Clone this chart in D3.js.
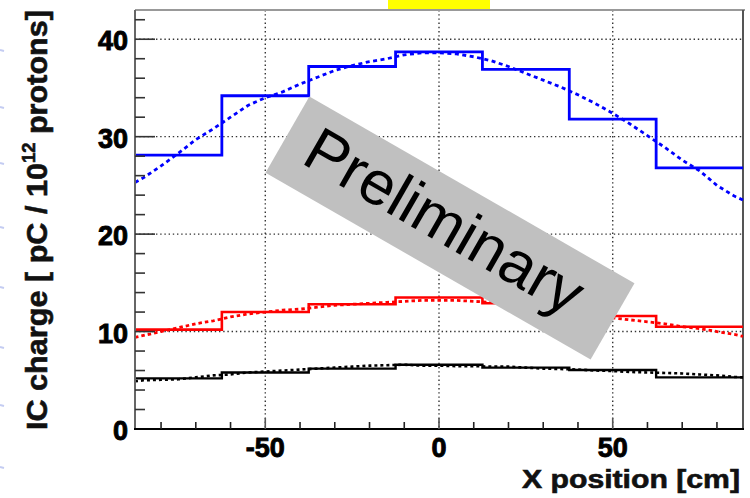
<!DOCTYPE html>
<html>
<head>
<meta charset="utf-8">
<script src="https://cdn.jsdelivr.net/npm/d3@7"></script>
<style>
  html, body { margin: 0; padding: 0; background: #ffffff; }
  svg { display: block; }
  text { font-family: "Liberation Sans", Arial, Helvetica, sans-serif; }
</style>
</head>
<body>
<svg id="chart" width="750" height="498"></svg>
<script>
// Histogram bin edges along the beam profile [cm]
const binEdges = [-87.5, -62.5, -37.5, -12.5, 12.5, 37.5, 62.5, 87.5];

// Measured IC charge per bin [pC / 1e12 protons]
const blueMeasured  = [28.1, 34.2, 37.2, 38.7, 36.9, 31.8, 26.8];
const redMeasured   = [10.2, 12.0, 12.8, 13.5, 12.9, 11.6, 10.5];
const blackMeasured = [5.2, 5.8, 6.2, 6.6, 6.3, 6.05, 5.3];

// Simulated profiles, sampled along X [cm]
const simX = [-87.5, -85, -80, -75, -70, -65, -60, -55, -50, -45, -40, -35, -30, -25, -20, -15, -10, -5, 0,
              5, 10, 15, 20, 25, 30, 35, 40, 45, 50, 55, 60, 65, 70, 75, 80, 85, 87.5];
const blueSim  = [25.3, 25.8, 27.0, 28.3, 29.7, 30.8, 32.0, 33.2, 34.0, 34.6, 35.4, 36.1, 36.8, 37.3, 37.7, 38.0, 38.4, 38.6, 38.6,
                  38.5, 38.2, 37.8, 37.2, 36.5, 35.8, 35.1, 34.3, 33.4, 32.4, 31.3, 30.1, 28.9, 27.6, 26.5, 25.0, 23.9, 23.5];
const redSim   = [9.4, 9.6, 10.0, 10.4, 10.8, 11.1, 11.5, 11.8, 12.0, 12.2, 12.3, 12.5, 12.7, 12.8, 12.9, 13.0, 13.1, 13.2, 13.2,
                  13.2, 13.1, 13.0, 12.8, 12.6, 12.4, 12.2, 12.0, 11.7, 11.4, 11.2, 11.0, 10.8, 10.5, 10.3, 10.0, 9.7, 9.5];
const blackSim = [4.9, 5.0, 5.05, 5.1, 5.3, 5.5, 5.6, 5.8, 5.9, 6.0, 6.1, 6.2, 6.3, 6.4, 6.5, 6.55, 6.6, 6.5, 6.5,
                  6.45, 6.45, 6.4, 6.4, 6.3, 6.2, 6.15, 6.1, 6.0, 5.95, 5.85, 5.8, 5.75, 5.7, 5.6, 5.5, 5.35, 5.3];

// Axis ticks
const xMajorTicks = [-50, 0, 50];
const xTickLabels = ["-50", "0", "50"];
const xMinorTicks = [-80, -70, -60, -40, -30, -20, -10, 10, 20, 30, 40, 60, 70, 80];
const yMajorTicks = [0, 10, 20, 30, 40];
const yTickLabels = ["0", "10", "20", "30", "40"];
const yMinorTicks = [2, 4, 6, 8, 12, 14, 16, 18, 22, 24, 26, 28, 32, 34, 36, 38, 42];

const svg = d3.select("#chart");

const plot = { left: 135, right: 743, top: 10, bottom: 429 };
const x = d3.scaleLinear().domain([-87.5, 87.5]).range([plot.left, plot.right]);
const y = d3.scaleLinear().domain([0, 43]).range([plot.bottom, plot.top]);

// Faint slide bullets along the left margin
const bulletY = [50, 107, 163, 227, 287, 347, 405, 467];
svg.append("g").selectAll("line").data(bulletY).join("line")
  .attr("x1", 0).attr("x2", 4).attr("y1", d => d).attr("y2", d => d + 1)
  .attr("stroke", "#c4ccf2").attr("stroke-width", 2);

// Yellow tab above the frame
svg.append("rect").attr("x", 388).attr("y", 0).attr("width", 102).attr("height", 9).attr("fill", "#ffff00");

// Dotted grid
const grid = svg.append("g").attr("stroke", "#333").attr("stroke-width", 1.4).attr("stroke-dasharray", "1.4,2.8");
grid.selectAll(".gy").data(yMajorTicks.filter(d => d > 0)).join("line")
  .attr("x1", plot.left).attr("x2", plot.right).attr("y1", d => y(d)).attr("y2", d => y(d));
grid.selectAll(".gx").data(xMajorTicks).join("line")
  .attr("y1", plot.top).attr("y2", plot.bottom).attr("x1", d => x(d)).attr("x2", d => x(d));

// Frame
svg.append("line").attr("x1", plot.left).attr("x2", plot.right + 2).attr("y1", plot.top).attr("y2", plot.top)
  .attr("stroke", "#999").attr("stroke-width", 2);
svg.append("line").attr("x1", plot.right).attr("x2", plot.right).attr("y1", plot.top).attr("y2", plot.bottom)
  .attr("stroke", "#555").attr("stroke-width", 2);

// Step histograms and simulated curves
const stepLine = d3.line().x(d => x(d[0])).y(d => y(d[1])).curve(d3.curveStepAfter);
const simLine = d3.line().x((d, i) => x(simX[i])).y(d => y(d));

function histPoints(vals) {
  const pts = vals.map((v, i) => [binEdges[i], v]);
  pts.push([binEdges[binEdges.length - 1], vals[vals.length - 1]]);
  return pts;
}

const series = [
  { meas: blackMeasured, sim: blackSim, color: "#000000", w: 2.4, sw: 2.6, dash: "3,3" },
  { meas: redMeasured,   sim: redSim,   color: "#ff0000", w: 2.6, sw: 2.8, dash: "3.5,3" },
  { meas: blueMeasured,  sim: blueSim,  color: "#0000ff", w: 2.8, sw: 2.8, dash: "4,3.5" }
];

series.forEach(s => {
  svg.append("path").attr("d", simLine(s.sim)).attr("fill", "none")
    .attr("stroke", s.color).attr("stroke-width", s.sw).attr("stroke-dasharray", s.dash);
  svg.append("path").attr("d", stepLine(histPoints(s.meas))).attr("fill", "none")
    .attr("stroke", s.color).attr("stroke-width", s.w);
});

// Y axis
const yAxis = svg.append("g");
yAxis.append("line").attr("x1", plot.left).attr("x2", plot.left).attr("y1", plot.top).attr("y2", plot.bottom)
  .attr("stroke", "#666").attr("stroke-width", 2);
yAxis.selectAll(".ymaj").data(yMajorTicks).join("line")
  .attr("x1", plot.left).attr("x2", plot.left + 20).attr("y1", d => y(d)).attr("y2", d => y(d))
  .attr("stroke", "#333").attr("stroke-width", 1.6);
yAxis.selectAll(".ymin").data(yMinorTicks).join("line")
  .attr("x1", plot.left).attr("x2", plot.left + 10).attr("y1", d => y(d)).attr("y2", d => y(d))
  .attr("stroke", "#333").attr("stroke-width", 1.6);
yAxis.selectAll("text").data(yMajorTicks).join("text")
  .attr("x", 128).attr("y", d => y(d) + 2).attr("text-anchor", "end").attr("dominant-baseline", "central")
  .attr("font-size", 27).attr("font-weight", "bold").attr("fill", "#000")
  .attr("stroke", "#000").attr("stroke-width", 0.9)
  .text((d, i) => yTickLabels[i]);

// X axis
const xAxis = svg.append("g");
xAxis.append("line").attr("x1", plot.left - 1).attr("x2", plot.right + 1).attr("y1", plot.bottom).attr("y2", plot.bottom)
  .attr("stroke", "#000").attr("stroke-width", 2);
xAxis.selectAll(".xmaj").data(xMajorTicks).join("line")
  .attr("x1", d => x(d)).attr("x2", d => x(d)).attr("y1", plot.bottom).attr("y2", plot.bottom - 11)
  .attr("stroke", "#555").attr("stroke-width", 1.6);
xAxis.selectAll(".xmin").data(xMinorTicks).join("line")
  .attr("x1", d => x(d)).attr("x2", d => x(d)).attr("y1", plot.bottom).attr("y2", plot.bottom - 7)
  .attr("stroke", "#222").attr("stroke-width", 1.6);
xAxis.selectAll("text").data(xMajorTicks).join("text")
  .attr("x", d => x(d)).attr("y", 457).attr("text-anchor", "middle")
  .attr("font-size", 27).attr("font-weight", "bold").attr("fill", "#000")
  .attr("stroke", "#000").attr("stroke-width", 0.9)
  .text((d, i) => xTickLabels[i]);

// Axis titles
svg.append("text").attr("x", 740).attr("y", 488).attr("text-anchor", "end")
  .attr("font-size", 25).attr("font-weight", "bold").attr("fill", "#111")
  .attr("stroke", "#111").attr("stroke-width", 0.6)
  .attr("textLength", 218).attr("lengthAdjust", "spacingAndGlyphs")
  .text("X position [cm]");

const yTitle = svg.append("text")
  .attr("transform", "translate(47,430) rotate(-90)")
  .attr("font-size", 30).attr("font-weight", "bold").attr("fill", "#111")
  .attr("stroke", "#111").attr("stroke-width", 0.6)
  .attr("textLength", 420).attr("lengthAdjust", "spacingAndGlyphs");
yTitle.append("tspan").text("IC charge [ pC / 10");
yTitle.append("tspan").attr("font-size", 18).attr("dy", -12).text("12");
yTitle.append("tspan").attr("dy", 12).text(" protons]");

// "Preliminary" stamp
const stamp = svg.append("g").attr("transform", "translate(450,228) rotate(29.9)");
stamp.append("rect").attr("x", -187.5).attr("y", -44).attr("width", 375).attr("height", 88).attr("fill", "#c0c0c0");
stamp.append("text").attr("x", -8).attr("y", 18).attr("text-anchor", "middle")
  .attr("font-size", 62).attr("fill", "#000").text("Preliminary");
</script>
</body>
</html>
